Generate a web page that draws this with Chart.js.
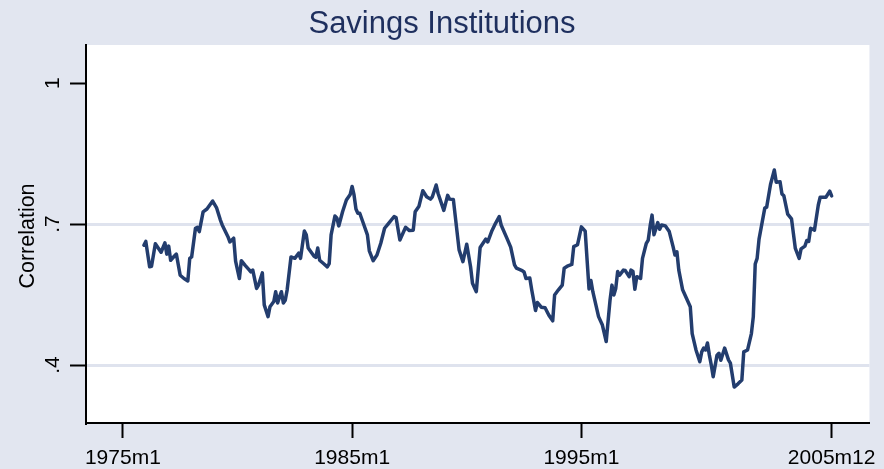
<!DOCTYPE html>
<html>
<head>
<meta charset="utf-8">
<script src="https://cdn.jsdelivr.net/npm/chart.js@4.4.0/dist/chart.umd.min.js"></script>
<style>
  html, body { margin: 0; padding: 0; background: #e2e6f0; }
  #wrap { width: 884px; height: 469px; }
</style>
</head>
<body>
<div id="wrap"><canvas id="myChart" width="884" height="469"></canvas></div>
<script>
// months since 1975m1 (monthly data, turning points)
const monthIdx = [
  11, 12, 14, 15, 17, 20, 22, 23, 24, 25, 27, 28, 30, 32, 34, 35, 36, 38, 39, 40,
  42, 44, 47, 49, 51, 52, 55, 56, 58, 59, 61, 62, 64, 66, 67, 68, 70, 71, 73, 74,
  76, 77, 79, 80, 81, 82, 83, 84, 85, 86, 88, 90, 92, 93, 95, 96, 97, 100, 101, 102,
  103, 105, 107, 108, 109, 111, 112, 113, 115, 117, 119, 120, 121, 122, 123, 124, 126, 128, 129, 131,
  133, 135, 137, 139, 142, 143, 145, 148, 150, 152, 153, 155, 157, 159, 161, 162, 164, 165, 168, 170,
  171, 173, 176, 178, 180, 182, 183, 185, 187, 190, 191, 193, 195, 197, 198, 201, 203, 205, 206, 209,
  210, 211, 213, 214, 216, 217, 219, 221, 223, 225, 226, 228, 230, 231, 233, 235, 236, 238, 240, 242,
  243, 244, 245, 246, 249, 251, 253, 255, 256, 257, 258, 259, 260, 262, 263, 265, 266, 267, 268, 269,
  271, 272, 274, 275, 276, 277, 278, 280, 281, 282, 284, 286, 288, 289, 290, 291, 293, 295, 297, 298,
  300, 302, 303, 304, 305, 306, 307, 308, 309, 311, 312, 313, 315, 317, 318, 320, 322, 324, 325, 327,
  329, 330, 331, 332, 333, 336, 337, 339, 341, 342, 344, 345, 346, 348, 350, 352, 354, 355, 357, 358,
  359, 360, 362, 364, 365, 368, 370, 371
];
const correlation = [
  .655, .663, .609, .610, .658, .640, .660, .636, .653, .623, .632, .636, .591, .584, .579, .627, .630, .691, .693, .684,
  .726, .732, .749, .735, .709, .698, .673, .662, .670, .621, .584, .622, .612, .603, .598, .602, .563, .570, .596, .528,
  .503, .524, .535, .556, .532, .545, .556, .532, .538, .560, .630, .627, .638, .627, .685, .677, .649, .632, .629, .649,
  .623, .616, .609, .616, .677, .717, .713, .696, .726, .751, .763, .780, .762, .732, .723, .723, .700, .677, .643, .622,
  .634, .659, .691, .701, .716, .714, .666, .693, .686, .687, .726, .738, .771, .758, .753, .758, .783, .765, .729, .761,
  .753, .752, .645, .620, .657, .609, .574, .556, .650, .668, .662, .684, .701, .716, .698, .670, .651, .613, .606, .601,
  .598, .584, .585, .560, .516, .533, .523, .522, .506, .494, .549, .560, .570, .606, .611, .614, .652, .656, .694, .685,
  .623, .562, .580, .556, .503, .485, .450, .538, .570, .549, .563, .599, .591, .602, .601, .588, .602, .599, .561, .588,
  .584, .627, .659, .666, .696, .719, .677, .703, .689, .698, .696, .684, .652, .634, .641, .602, .560, .542, .524, .467,
  .432, .407, .428, .436, .432, .447, .421, .400, .375, .421, .425, .410, .436, .411, .404, .353, .360, .368, .428, .432,
  .467, .503, .615, .627, .668, .734, .736, .784, .815, .789, .790, .764, .760, .721, .711, .648, .627, .647, .653, .665,
  .663, .691, .687, .740, .757, .757, .770, .760
];

const xTickMonths = [0, 120, 240, 371];
const xTickLabels = ['1975m1', '1985m1', '1995m1', '2005m12'];
const yTickValues = [0.4, 0.7, 1];
const yTickLabels = ['.4', '.7', '1'];

const titleText = 'Savings Institutions';
const yTitleText = 'Correlation';

const bgColor = '#e2e6f0';
const lineColor = '#233d6e';
const fontFamily = '"Liberation Sans", Arial, Helvetica, sans-serif';

const points = monthIdx.map((m, i) => ({ x: m, y: correlation[i] }));

const stataLook = {
  id: 'stataLook',
  beforeDraw(chart) {
    const { ctx, chartArea } = chart;
    ctx.save();
    ctx.fillStyle = bgColor;
    ctx.fillRect(0, 0, chart.width, chart.height);
    ctx.fillStyle = '#ffffff';
    ctx.fillRect(chartArea.left, chartArea.top, chartArea.right - chartArea.left, chartArea.bottom - chartArea.top);
    ctx.restore();
  },
  afterDraw(chart) {
    const { ctx } = chart;
    const yScale = chart.scales.y;
    ctx.save();
    // title
    ctx.fillStyle = '#1e2f5e';
    ctx.font = '31px ' + fontFamily;
    ctx.textAlign = 'center';
    ctx.textBaseline = 'alphabetic';
    ctx.fillText(titleText, chart.width / 2, 33);
    // y tick labels, rotated like Stata
    ctx.fillStyle = '#000';
    ctx.font = '21px ' + fontFamily;
    yTickValues.forEach((v, i) => {
      ctx.save();
      ctx.translate(59, yScale.getPixelForValue(v));
      ctx.rotate(-Math.PI / 2);
      ctx.fillText(yTickLabels[i], 0, 0);
      ctx.restore();
    });
    // y axis title
    ctx.font = '21.5px ' + fontFamily;
    ctx.save();
    ctx.translate(34, (chart.chartArea.top + chart.chartArea.bottom) / 2 + 2);
    ctx.rotate(-Math.PI / 2);
    ctx.fillText(yTitleText, 0, 0);
    ctx.restore();
    ctx.restore();
  }
};

new Chart(document.getElementById('myChart').getContext('2d'), {
  type: 'line',
  data: {
    datasets: [{
      label: 'Savings Institutions',
      data: points,
      borderColor: lineColor,
      borderWidth: 3.5,
      pointRadius: 0,
      tension: 0,
      fill: false,
      borderJoinStyle: 'round',
      borderCapStyle: 'round'
    }]
  },
  options: {
    responsive: false,
    animation: false,
    devicePixelRatio: 1,
    layout: { padding: { top: 45, right: 12, left: 0, bottom: 0 } },
    plugins: {
      legend: { display: false },
      title: { display: false },
      tooltip: { enabled: false }
    },
    scales: {
      x: {
        type: 'linear',
        min: -19.3,
        max: 390.8,
        afterBuildTicks: (scale) => { scale.ticks = xTickMonths.map(v => ({ value: v })); },
        afterFit: (scale) => { scale.height = 46; },
        ticks: {
          autoSkip: false,
          maxRotation: 0,
          minRotation: 0,
          padding: 8,
          color: '#000',
          font: { family: fontFamily, size: 21 },
          callback: (value, index) => xTickLabels[index]
        },
        grid: {
          drawOnChartArea: false,
          tickLength: 15,
          tickColor: '#000',
          tickWidth: 2
        },
        border: { color: '#000', width: 2 }
      },
      y: {
        type: 'linear',
        min: 0.2766,
        max: 1.081,
        afterBuildTicks: (scale) => { scale.ticks = yTickValues.map(v => ({ value: v })); },
        afterFit: (scale) => { scale.width = 86; },
        ticks: { display: false },
        grid: {
          color: (c) => (c.tick && c.tick.value === 1) ? 'rgba(0,0,0,0)' : '#dfe3ee',
          lineWidth: 3,
          tickLength: 16,
          tickColor: '#000',
          tickWidth: 2
        },
        border: { color: '#000', width: 2 }
      }
    }
  },
  plugins: [stataLook]
});
</script>
</body>
</html>
